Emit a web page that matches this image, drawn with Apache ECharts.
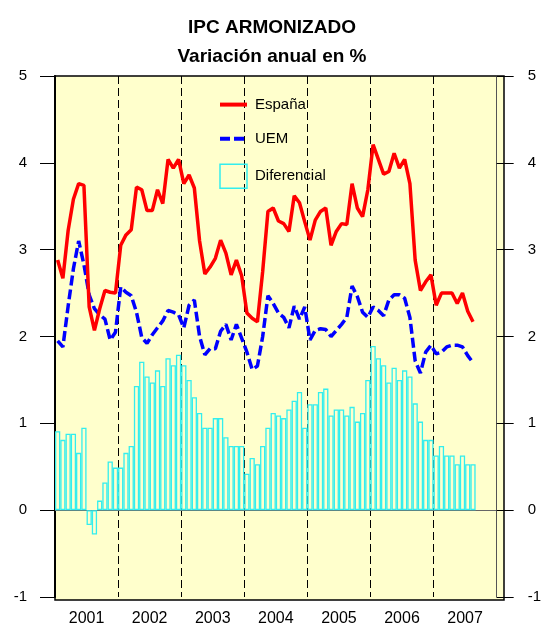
<!DOCTYPE html>
<html>
<head>
<meta charset="utf-8">
<script src="https://cdn.jsdelivr.net/npm/echarts@6/dist/echarts.min.js"></script>
<style>
  html, body { margin: 0; padding: 0; background: #fff; }
  #chart { width: 544px; height: 628px; }
</style>
</head>
<body>
<div id="chart"></div>
<script>
// IPC armonizado, variación anual en %, ene-2001 .. ago-2007
const years = ["2001", "2002", "2003", "2004", "2005", "2006", "2007"];
const yTicks = [-1, 0, 1, 2, 3, 4, 5];

const espana = [
  2.88, 2.67, 3.22, 3.58, 3.76, 3.74, 2.34, 2.07, 2.32, 2.53, 2.51, 2.50,
  3.05, 3.17, 3.23, 3.72, 3.69, 3.45, 3.45, 3.69, 3.53, 4.04, 3.94, 4.04,
  3.76, 3.86, 3.71, 3.10, 2.72, 2.80, 2.90, 3.11, 2.96, 2.71, 2.88, 2.70,
  2.27, 2.21, 2.17, 2.75, 3.44, 3.48, 3.33, 3.30, 3.21, 3.62, 3.54, 3.32,
  3.11, 3.34, 3.44, 3.48, 3.05, 3.21, 3.30, 3.29, 3.76, 3.48, 3.38, 3.69,
  4.21, 4.04, 3.87, 3.90, 4.11, 3.94, 4.04, 3.76, 2.88, 2.53, 2.63, 2.71,
  2.36, 2.50, 2.50, 2.50, 2.38, 2.50, 2.29, 2.17
];

const uem = [
  1.95, 1.88, 2.35, 2.78, 3.10, 2.83, 2.48, 2.32, 2.25, 2.20, 1.96, 2.05,
  2.57, 2.51, 2.47, 2.28, 1.99, 1.92, 2.02, 2.10, 2.18, 2.30, 2.28, 2.25,
  2.10, 2.36, 2.42, 2.00, 1.79, 1.86, 1.86, 2.06, 2.14, 1.96, 2.14, 1.98,
  1.82, 1.62, 1.66, 2.00, 2.47, 2.38, 2.27, 2.22, 2.10, 2.35, 2.20, 2.34,
  1.96, 2.07, 2.09, 2.08, 2.00, 2.07, 2.14, 2.22, 2.58, 2.46, 2.28, 2.22,
  2.34, 2.30, 2.24, 2.42, 2.48, 2.48, 2.44, 2.22, 1.72, 1.58, 1.82, 1.90,
  1.80, 1.82, 1.88, 1.90, 1.90, 1.88, 1.78, 1.70
];

const diferencial = [
  0.91, 0.81, 0.88, 0.88, 0.66, 0.95, -0.17, -0.28, 0.11, 0.32, 0.56, 0.49,
  0.49, 0.66, 0.74, 1.43, 1.71, 1.54, 1.47, 1.61, 1.43, 1.75, 1.67, 1.79,
  1.67, 1.50, 1.30, 1.12, 0.95, 0.95, 1.06, 1.06, 0.84, 0.74, 0.74, 0.74,
  0.42, 0.60, 0.53, 0.74, 0.95, 1.12, 1.09, 1.06, 1.16, 1.26, 1.36, 0.95,
  1.22, 1.22, 1.36, 1.40, 1.09, 1.16, 1.16, 1.09, 1.19, 1.02, 1.12, 1.50,
  1.89, 1.75, 1.67, 1.47, 1.64, 1.50, 1.61, 1.54, 1.23, 1.02, 0.81, 0.81,
  0.63, 0.74, 0.63, 0.63, 0.53, 0.63, 0.53, 0.53
];

// one category per month, whole years
const months = [];
years.forEach(y => {
  for (let m = 1; m <= 12; m++) months.push(y + "-" + (m < 10 ? "0" + m : m));
});

const font = "'Liberation Sans', Arial, sans-serif";
const cyan = "#33EEEE";

const chart = echarts.init(document.getElementById("chart"));
chart.setOption({
  animation: false,
  backgroundColor: "#fff",
  textStyle: { fontFamily: font },
  title: {
    text: "IPC ARMONIZADO\nVariación anual en %",
    left: "center",
    top: 8,
    textStyle: { fontFamily: font, fontSize: 19, fontWeight: "bold", color: "#000", lineHeight: 29 }
  },
  graphic: [
    {
      type: "rect",
      z: -1,
      shape: { x: 55, y: 76, width: 449, height: 524 },
      style: { fill: "#FFFFCC", stroke: "#000", lineWidth: 1.5 }
    }
  ],
  legend: {
    orient: "vertical",
    left: 218,
    top: 95,
    padding: 0,
    itemWidth: 27,
    itemHeight: 24,
    itemGap: 15,
    textStyle: { fontFamily: font, fontSize: 15, color: "#000", padding: [0, 0, 0, 3] },
    data: [
      { name: "España", itemStyle: { color: "transparent", borderWidth: 0 }, lineStyle: { width: 4 } },
      { name: "UEM", itemStyle: { color: "transparent", borderWidth: 0 }, lineStyle: { width: 4 } },
      { name: "Diferencial", icon: "rect", itemStyle: { color: "transparent", borderColor: cyan, borderWidth: 1.5 } }
    ]
  },
  grid: { left: 55, right: 43, top: 76, bottom: 31 },
  xAxis: [
    {
      type: "category",
      data: months,
      show: false
    },
    {
      type: "category",
      data: years,
      position: "bottom",
      axisLine: { lineStyle: { color: "#666", width: 1 } },
      axisTick: { show: false },
      axisLabel: { fontFamily: font, fontSize: 16, color: "#000", margin: 14 },
      splitLine: { show: true, lineStyle: { color: "#000", width: 1, type: [8, 4] } }
    }
  ],
  yAxis: [
    {
      type: "value",
      min: -1,
      max: 5,
      interval: 1,
      position: "left",
      axisLine: { show: true, lineStyle: { color: "#000", width: 2 } },
      axisTick: { show: true, length: 15, lineStyle: { color: "#000" } },
      axisLabel: { fontFamily: font, fontSize: 15, color: "#000", margin: 28 },
      splitLine: { show: false }
    },
    {
      type: "value",
      min: -1,
      max: 5,
      interval: 1,
      position: "right",
      axisLine: { show: true, lineStyle: { color: "#555", width: 1 } },
      axisTick: { show: true, length: 17, lineStyle: { color: "#000" } },
      axisLabel: { fontFamily: font, fontSize: 15, color: "#000", margin: 31 },
      splitLine: { show: false }
    }
  ],
  series: [
    {
      name: "Diferencial",
      type: "bar",
      xAxisIndex: 0,
      yAxisIndex: 0,
      data: diferencial,
      barCategoryGap: "0%",
      itemStyle: { color: "transparent", borderColor: cyan, borderWidth: 1.3 },
      z: 1
    },
    {
      name: "España",
      type: "line",
      xAxisIndex: 0,
      yAxisIndex: 0,
      data: espana,
      symbol: "none",
      lineStyle: { color: "#FF0000", width: 3.5 },
      itemStyle: { color: "#FF0000" },
      z: 3
    },
    {
      name: "UEM",
      type: "line",
      xAxisIndex: 0,
      yAxisIndex: 0,
      data: uem,
      symbol: "none",
      lineStyle: { color: "#0000FF", width: 3.5, type: [10, 4] },
      itemStyle: { color: "#0000FF" },
      z: 2
    }
  ]
});
</script>
</body>
</html>
